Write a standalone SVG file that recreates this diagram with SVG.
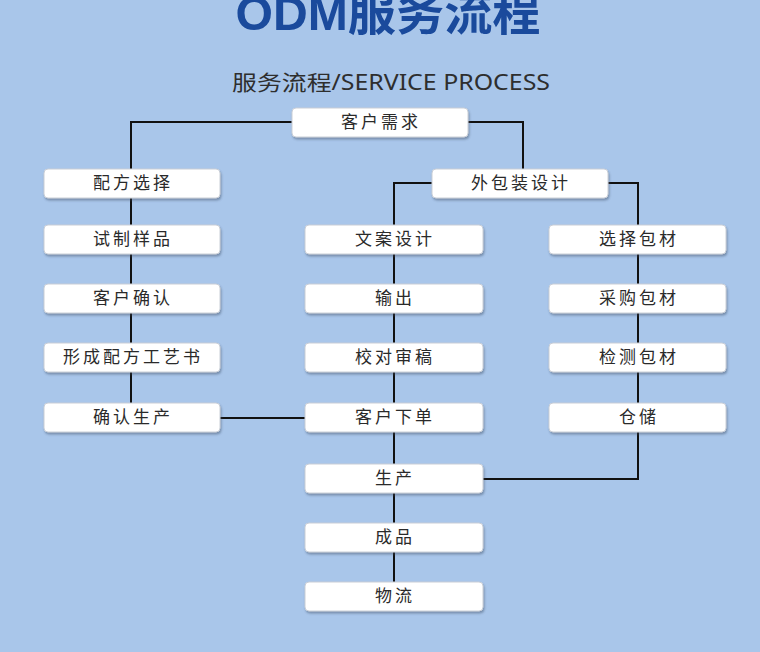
<svg xmlns="http://www.w3.org/2000/svg" width="760" height="652" viewBox="0 0 760 652">
<defs>
<filter id="sh" x="-10%" y="-30%" width="120%" height="170%">
<feDropShadow dx="1" dy="2" stdDeviation="1.2" flood-color="#3a4a60" flood-opacity="0.45"/>
</filter>
<style>
.box{fill:#ffffff;stroke:#c9ced6;stroke-width:1;filter:url(#sh)}
.lbl{font-family:"Noto Sans CJK SC","Noto Sans",sans-serif;font-size:17px;fill:#2a2a2a;text-anchor:middle;letter-spacing:3px}
.ln{fill:none;stroke:#111;stroke-width:2}
</style>
</defs>
<rect x="0" y="0" width="760" height="652" fill="#a9c6ea"/>
<text x="388" y="30" font-family="'Liberation Sans','Noto Sans CJK SC',sans-serif" font-weight="bold" font-size="48" fill="#1a4a9c" text-anchor="middle" textLength="305" lengthAdjust="spacingAndGlyphs">ODM服务流程</text>
<text x="391" y="90" font-family="'Noto Sans','Noto Sans CJK SC',sans-serif" font-size="21" fill="#2e2e2e" text-anchor="middle" textLength="318" lengthAdjust="spacingAndGlyphs">服务流程/SERVICE PROCESS</text>
<g id="connectors">
<path class="ln" d="M292 122 H131 V418"/>
<path class="ln" d="M468 122 H523 V169"/>
<path class="ln" d="M432 183 H394 V597"/>
<path class="ln" d="M608 183 H638 V479 H483"/>
<path class="ln" d="M220 418 H305"/>
</g>
<g id="n1"><rect class="box" x="292" y="108" width="176" height="29" rx="4"/><text class="lbl" x="381" y="128">客户需求</text></g>
<g id="n2"><rect class="box" x="432" y="169" width="176" height="29" rx="4"/><text class="lbl" x="521" y="189">外包装设计</text></g>
<g id="n3"><rect class="box" x="44" y="169" width="176" height="29" rx="4"/><text class="lbl" x="133" y="189">配方选择</text></g>
<g id="n4"><rect class="box" x="44" y="225" width="176" height="29" rx="4"/><text class="lbl" x="133" y="245">试制样品</text></g>
<g id="n5"><rect class="box" x="44" y="284" width="176" height="29" rx="4"/><text class="lbl" x="133" y="304">客户确认</text></g>
<g id="n6"><rect class="box" x="44" y="343" width="176" height="29" rx="4"/><text class="lbl" x="133" y="363">形成配方工艺书</text></g>
<g id="n7"><rect class="box" x="44" y="403" width="176" height="29" rx="4"/><text class="lbl" x="133" y="423">确认生产</text></g>
<g id="n8"><rect class="box" x="305" y="225" width="178" height="29" rx="4"/><text class="lbl" x="395" y="245">文案设计</text></g>
<g id="n9"><rect class="box" x="305" y="284" width="178" height="29" rx="4"/><text class="lbl" x="395" y="304">输出</text></g>
<g id="n10"><rect class="box" x="305" y="343" width="178" height="29" rx="4"/><text class="lbl" x="395" y="363">校对审稿</text></g>
<g id="n11"><rect class="box" x="305" y="403" width="178" height="29" rx="4"/><text class="lbl" x="395" y="423">客户下单</text></g>
<g id="n12"><rect class="box" x="305" y="464" width="178" height="29" rx="4"/><text class="lbl" x="395" y="484">生产</text></g>
<g id="n13"><rect class="box" x="305" y="523" width="178" height="29" rx="4"/><text class="lbl" x="395" y="543">成品</text></g>
<g id="n14"><rect class="box" x="305" y="582" width="178" height="29" rx="4"/><text class="lbl" x="395" y="602">物流</text></g>
<g id="n15"><rect class="box" x="549" y="225" width="177" height="29" rx="4"/><text class="lbl" x="639" y="245">选择包材</text></g>
<g id="n16"><rect class="box" x="549" y="284" width="177" height="29" rx="4"/><text class="lbl" x="639" y="304">采购包材</text></g>
<g id="n17"><rect class="box" x="549" y="343" width="177" height="29" rx="4"/><text class="lbl" x="639" y="363">检测包材</text></g>
<g id="n18"><rect class="box" x="549" y="403" width="177" height="29" rx="4"/><text class="lbl" x="639" y="423">仓储</text></g>
</svg>
